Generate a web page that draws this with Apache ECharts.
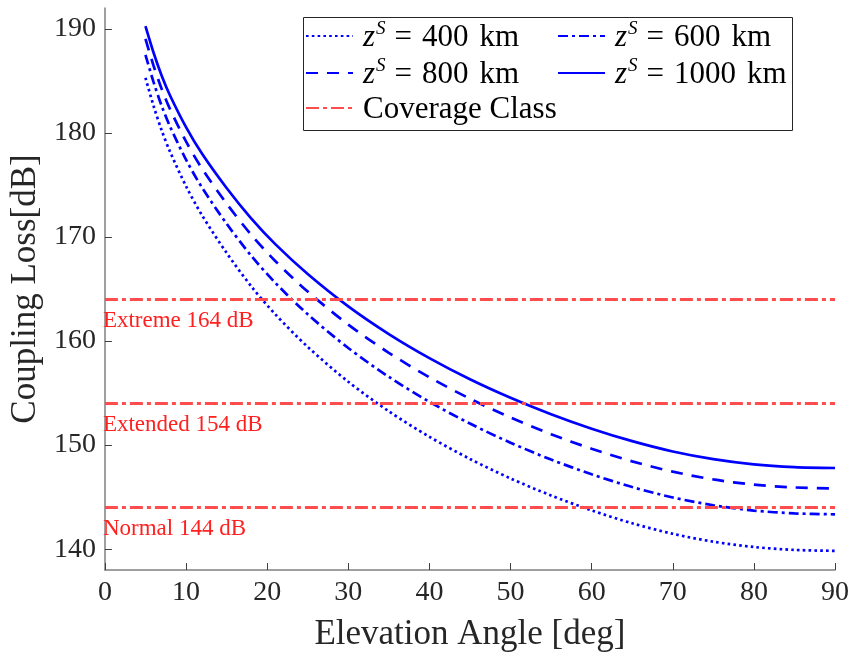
<!DOCTYPE html>
<html>
<head>
<meta charset="utf-8">
<script src="https://cdn.jsdelivr.net/npm/echarts@6/dist/echarts.min.js"></script>
<style>
html,body{margin:0;padding:0;background:#fff;}
#chart{width:853px;height:657px;}
</style>
</head>
<body>
<div id="chart"></div>
<script>
// ---- data ----
const elevation = [5,6,7,8,10,12,15,18,21,25,30,35,40,45,50,55,60,65,70,75,80,85,90];
const loss400  = [185.29,182.59,180.24,178.25,174.88,172.05,168.47,165.30,162.57,159.44,156.09,153.25,150.80,148.67,146.80,145.16,143.73,142.49,141.48,140.72,140.21,139.93,139.84];
const loss600  = [187.50,184.87,182.59,180.66,177.43,174.71,171.28,168.23,165.60,162.57,159.33,156.56,154.16,152.07,150.23,148.61,147.20,145.97,144.97,144.22,143.71,143.44,143.35];
const loss800  = [189.04,186.45,184.22,182.33,179.18,176.54,173.21,170.25,167.69,164.75,161.58,158.87,156.52,154.46,152.65,151.05,149.65,148.44,147.45,146.70,146.20,145.93,145.84];
const loss1000 = [190.25,187.70,185.49,183.64,180.55,177.96,174.70,171.81,169.31,166.44,163.33,160.67,158.36,156.33,154.55,152.97,151.58,150.38,149.39,148.65,148.15,147.89,147.80];
const altitudes = [400, 600, 800, 1000];
const coverageLevels = [164, 154, 144];
const coverageNames = ['Extreme', 'Extended', 'Normal'];
const xTicks = [0,10,20,30,40,50,60,70,80,90];
const yTicks = [140,150,160,170,180,190];

const serif = 'Liberation Serif';
const blue = '#0000ff';
const red = '#ff4d4d';
const lossSeries = [loss400, loss600, loss800, loss1000];
const dashTypes = [[2.6,3.2], [10,4,3,4], [12,9], 'solid'];

const series = altitudes.map((h, i) => ({
  name: 'z' + h,
  type: 'line',
  data: elevation.map((e, j) => [e, lossSeries[i][j]]),
  showSymbol: false,
  symbol: 'none',
  smooth: 0.3,
  lineStyle: { color: blue, width: 2.7, type: dashTypes[i], cap: 'butt' },
  itemStyle: { color: blue },
  z: 3
}));

series.push({
  name: 'Coverage Class',
  type: 'line',
  data: [],
  symbol: 'none',
  showSymbol: false,
  lineStyle: { color: red, width: 3, type: [13,4,4,4] },
  itemStyle: { color: red },
  markLine: {
    silent: true,
    symbol: 'none',
    lineStyle: { color: red, width: 3, type: [13,4,4,4] },
    label: {
      position: 'insideStartBottom',
      distance: [-2, 10],
      color: '#ff2020',
      fontFamily: serif,
      fontSize: 23
    },
    data: coverageLevels.map((v, i) => ({
      yAxis: v,
      label: { formatter: coverageNames[i] + ' ' + v + ' dB' }
    }))
  },
  z: 2
});

const legendText = {
  fontFamily: serif,
  fontSize: 31,
  color: '#000',
  rich: {
    i: { fontFamily: serif, fontStyle: 'italic', fontSize: 31, lineHeight: 34, verticalAlign: 'bottom', color: '#000', padding: [0, 0, 0, 5] },
    s: { fontFamily: serif, fontStyle: 'italic', fontSize: 19, lineHeight: 34, verticalAlign: 'top', color: '#000', padding: [0, 0, 0, 1] },
    e: { fontFamily: serif, fontSize: 31, lineHeight: 34, verticalAlign: 'bottom', color: '#000', padding: [0, 10, 0, 9] },
    t: { fontFamily: serif, fontSize: 31, lineHeight: 34, verticalAlign: 'bottom', color: '#000' },
    k: { fontFamily: serif, fontSize: 31, lineHeight: 34, verticalAlign: 'bottom', color: '#000', padding: [0, 0, 0, 11] },
    c: { fontFamily: serif, fontSize: 31, lineHeight: 34, verticalAlign: 'bottom', color: '#000', padding: [0, 0, 0, 5] }
  }
};
function legendFmt(name) {
  if (name === 'Coverage Class') return '{c|Coverage Class}';
  return '{i|z}{s|S}{e|=}{t|' + name.slice(1) + '}{k|km}';
}
const legendPos = [[305, 19], [557, 19], [305, 56], [557, 56], [305, 94]];
const legendNames = ['z400', 'z600', 'z800', 'z1000', 'Coverage Class'];
const legends = legendNames.map((n, i) => ({
  data: [n],
  left: legendPos[i][0],
  top: legendPos[i][1],
  padding: 0,
  itemWidth: 47,
  itemHeight: 14,
  itemGap: 10,
  selectedMode: false,
  formatter: legendFmt,
  itemStyle: { opacity: 0 },
  textStyle: legendText
}));

const chart = echarts.init(document.getElementById('chart'), null, { renderer: 'canvas' });
chart.setOption({
  animation: false,
  backgroundColor: '#fff',
  textStyle: { fontFamily: serif },
  grid: { left: 100, right: 18, top: 8, bottom: 84, containLabel: false },
  legend: legends,
  graphic: [{
    type: 'rect',
    shape: { x: 303.5, y: 17.5, width: 489, height: 113 },
    style: { fill: 'rgba(0,0,0,0)', stroke: '#262626', lineWidth: 1 },
    z: 0
  }],
  xAxis: {
    type: 'value',
    min: 0, max: 90, interval: 10,
    name: 'Elevation Angle [deg]',
    nameLocation: 'middle',
    nameGap: 47,
    nameTextStyle: { fontFamily: serif, fontSize: 35, color: '#262626' },
    axisLine: { show: true, lineStyle: { color: '#808080', width: 1.5 } },
    axisTick: { show: true, inside: true, length: 7, lineStyle: { color: '#404040', width: 1 }, customValues: xTicks },
    axisLabel: { fontFamily: serif, fontSize: 28, color: '#262626', margin: 9, customValues: xTicks },
    splitLine: { show: false }
  },
  yAxis: {
    type: 'value',
    min: 138, max: 192,
    name: 'Coupling Loss[dB]',
    nameLocation: 'middle',
    nameGap: 57,
    nameTextStyle: { fontFamily: serif, fontSize: 35, color: '#262626' },
    axisLine: { show: true, lineStyle: { color: '#808080', width: 1.5 } },
    axisTick: { show: true, inside: true, length: 7, lineStyle: { color: '#404040', width: 1 }, customValues: yTicks },
    axisLabel: { fontFamily: serif, fontSize: 28, color: '#262626', margin: 9, customValues: yTicks },
    splitLine: { show: false }
  },
  series: series
});
</script>
</body>
</html>
